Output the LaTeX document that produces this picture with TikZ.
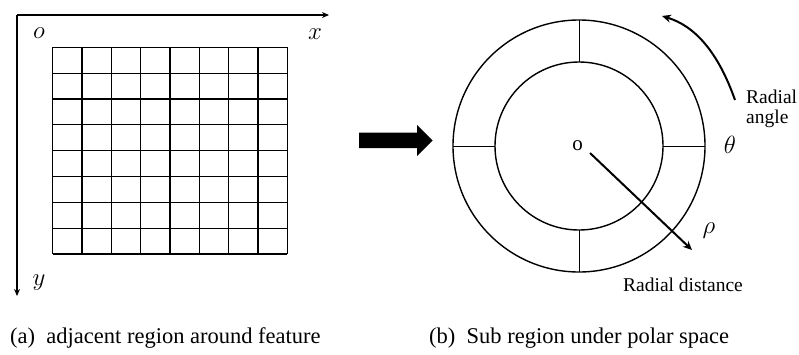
\documentclass[tikz,border=0pt]{standalone}
\usepackage{fontspec}
\setmainfont{Liberation Serif}
\usetikzlibrary{arrows.meta}
\begin{document}
\begin{tikzpicture}[x=1pt,y=-1pt,
  axis/.style={line width=1.4pt,-{Stealth[length=7pt,width=6pt]}},
  gridline/.style={line width=1.2pt},
  ring/.style={line width=1.4pt},
  tick/.style={line width=0.7pt},
  thickarrow/.style={line width=2pt,-{Stealth[length=9pt,width=8pt]}},
  mathlbl/.style={inner sep=0pt,font=\fontsize{26}{28}\selectfont},
  greek/.style={inner sep=0pt,font=\fontsize{29}{31}\selectfont},
  txt/.style={inner sep=0pt,font=\fontsize{19.5}{21}\selectfont},
  caption/.style={inner sep=0pt,anchor=base west,font=\fontsize{22.5}{24}\selectfont}]
\useasboundingbox (0,0) rectangle (799,354);
% axes
\coordinate (O) at (17,15);
\coordinate (X) at (329,15);
\coordinate (Y) at (17,296);
\draw[axis] (O) -- (X);
\draw[axis] (O) -- (Y);
\node[mathlbl] (lo) at (39,33) {$o$};
\node[mathlbl] (lx) at (315,34) {$x$};
\node[mathlbl] (ly) at (39,283) {$y$};
% grid
\foreach \i in {0,...,8} {
  \draw[gridline] ({52.7+\i*29.33},47.3) -- ({52.7+\i*29.33},254);
  \draw[gridline] (52.7,{47.3+\i*25.84}) -- (287.3,{47.3+\i*25.84});
}
% big arrow
\fill (359,132.5) -- (417,132.5) -- (417,125) -- (432.7,140.5) -- (417,156) -- (417,148) -- (359,148) -- cycle;
% polar
\coordinate (C) at (579,146);
\draw[ring] (C) circle[radius=126];
\draw[ring] (C) circle[radius=84];
\draw[tick] (453,146) -- (495,146);
\draw[tick] (663,146) -- (705,146);
\draw[tick] (579,20) -- (579,62);
\draw[tick] (579,230) -- (579,272);
\node[txt,font=\fontsize{21}{22}\selectfont] (co) at (577.5,146) {o};
\coordinate (rhostart) at (590,153);
\coordinate (rhoend) at (692,250);
\draw[thickarrow] (rhostart) -- (rhoend);
\node[greek] (rho) at (709,231) {$\rho$};
\node[greek] (theta) at (730,145) {$\theta$};
\coordinate (angstart) at (735,100);
\coordinate (angend) at (662,16);
\draw[thickarrow] (angstart) .. controls (718,52) and (695,26) .. (angend);
\node[txt,anchor=base west] (ra1) at (746,103) {Radial};
\node[txt,anchor=base west] (ra2) at (746,123) {angle};
\node[txt,anchor=base] (rd) at (683,291) {Radial distance};
% captions
\node[caption] (capa) at (10,343) {(a)\ \ adjacent region around feature};
\node[caption] (capb) at (429,343) {(b)\ \ Sub region under polar space};
\end{tikzpicture}
\end{document}
